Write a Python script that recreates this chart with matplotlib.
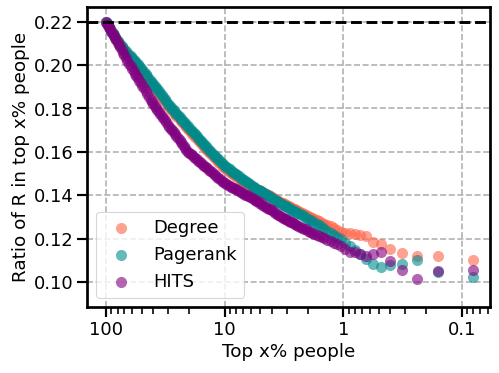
import matplotlib
matplotlib.use("Agg")
import matplotlib.pyplot as plt
from matplotlib.ticker import NullFormatter

# shared x grid (top x% people)
top_pct = [100, 98, 96, 94, 92, 90, 88, 86, 84, 82, 80, 78, 76, 74, 72, 70, 68, 66, 64, 62,
           60, 58.5, 57, 55.5, 54, 52.5, 51, 49.5, 48, 46.5, 45, 43.5, 42, 41, 40, 39, 38, 37,
           36, 35, 34, 33, 32, 31, 30, 29.2, 28.5, 27.7, 27, 26.2, 25.5, 24.7, 24, 23.4, 22.8,
           22.2, 21.6, 21, 20.4, 19.8, 19.2, 18.7, 18.2, 17.7, 17.2, 16.7, 16.2, 15.7, 15.3,
           14.8, 14.4, 14, 13.6, 13.2, 12.8, 12.4, 12, 11.6, 11.3, 10.9, 10.6, 10.3, 10, 9.7,
           9.4, 9.1, 8.8, 8.55, 8.3, 8.05, 7.8, 7.55, 7.3, 7.1, 6.9, 6.7, 6.5, 6.3, 6.1, 5.9,
           5.7, 5.55, 5.4, 5.25, 5.1, 4.95, 4.8, 4.65, 4.5, 4.37, 4.24, 4.12, 4.0, 3.88, 3.76,
           3.64, 3.52, 3.4, 3.28, 3.2, 3.12, 3.04, 2.96, 2.88, 2.80, 2.72, 2.64, 2.56, 2.48,
           2.40, 2.32, 2.24, 2.16, 2.08, 2.0, 1.92, 1.84, 1.76, 1.68, 1.60, 1.52, 1.44, 1.36,
           1.28, 1.20, 1.12, 1.04,
           0.96, 0.88, 0.80, 0.72, 0.64, 0.56, 0.48, 0.40, 0.32, 0.24, 0.16, 0.08]

degree = [.2200, .2192, .2183, .2175, .2166, .2157, .2148, .2139, .2129, .2119, .2109, .2100,
          .2090, .2082, .2073, .2065, .2056, .2048, .2040, .2031, .2022, .2015, .2008, .2001,
          .1993, .1985, .1976, .1967, .1957, .1947, .1937, .1927, .1916, .1909, .1901, .1893,
          .1885, .1877, .1868, .1859, .1850, .1841, .1832, .1822, .1812, .1804, .1796, .1789,
          .1781, .1774, .1766, .1758, .1750, .1743, .1736, .1729, .1722, .1715, .1707, .1699,
          .1691, .1684, .1677, .1670, .1662, .1654, .1646, .1639, .1631, .1623, .1615, .1608,
          .1600, .1593, .1585, .1577, .1569, .1562, .1555, .1547, .1539, .1532, .1525, .1520,
          .1514, .1509, .1503, .1498, .1493, .1488, .1482, .1477, .1471, .1466, .1461, .1457,
          .1453, .1449, .1444, .1440, .1435, .1432, .1429, .1426, .1422, .1418, .1414, .1410,
          .1406, .1403, .1399, .1395, .1391, .1388, .1384, .1380, .1375, .1370, .1365, .1362,
          .1359, .1356, .1352, .1349, .1345, .1342, .1338, .1334, .1330, .1326, .1322, .1319,
          .1315, .1310, .1306, .1301, .1297, .1292, .1285, .1280, .1273, .1268, .1262, .1256,
          .1249, .1241, .1232,
          .1228, .1225, .1222, .1218, .1212, .1185, .1174, .1150, .1134, .1122, .1119, .1100]

pagerank = [.2200, .2192, .2183, .2175, .2166, .2157, .2148, .2139, .2129, .2119, .2109, .2101,
            .2093, .2086, .2078, .2071, .2063, .2056, .2048, .2040, .2031, .2024, .2017, .2010,
            .2003, .1995, .1986, .1977, .1967, .1957, .1947, .1937, .1926, .1919, .1911, .1903,
            .1895, .1887, .1878, .1869, .1860, .1851, .1842, .1832, .1822, .1814, .1806, .1799,
            .1791, .1784, .1776, .1768, .1760, .1753, .1746, .1739, .1732, .1725, .1717, .1709,
            .1701, .1694, .1687, .1680, .1672, .1664, .1656, .1649, .1641, .1633, .1625, .1618,
            .1610, .1603, .1595, .1587, .1579, .1572, .1565, .1557, .1549, .1542, .1535, .1530,
            .1524, .1519, .1513, .1508, .1503, .1498, .1492, .1487, .1481, .1476, .1471, .1466,
            .1461, .1456, .1450, .1444, .1438, .1434, .1430, .1426, .1422, .1418, .1413, .1409,
            .1404, .1400, .1396, .1392, .1387, .1383, .1379, .1374, .1369, .1364, .1359, .1356,
            .1352, .1349, .1345, .1341, .1337, .1333, .1329, .1325, .1320, .1316, .1311, .1307,
            .1302, .1296, .1291, .1285, .1280, .1274, .1267, .1261, .1253, .1245, .1236, .1227,
            .1218, .1207, .1196,
            .1180, .1165, .1148, .1128, .1105, .1084, .1069, .1076, .1084, .1099, .1046, .1023]

hits = [.2200, .2191, .2182, .2173, .2164, .2154, .2144, .2134, .2124, .2114, .2103, .2092,
        .2081, .2069, .2057, .2045, .2033, .2020, .2006, .1993, .1980, .1970, .1960, .1950,
        .1939, .1928, .1916, .1904, .1892, .1880, .1867, .1853, .1839, .1830, .1820, .1810,
        .1800, .1791, .1782, .1773, .1764, .1755, .1745, .1735, .1724, .1716, .1707, .1699,
        .1690, .1681, .1672, .1662, .1652, .1644, .1635, .1627, .1618, .1609, .1600, .1594,
        .1588, .1583, .1577, .1571, .1565, .1559, .1553, .1547, .1541, .1535, .1529, .1523,
        .1517, .1511, .1505, .1499, .1492, .1486, .1480, .1474, .1467, .1461, .1455, .1451,
        .1447, .1443, .1439, .1435, .1431, .1427, .1423, .1419, .1414, .1411, .1407, .1403,
        .1399, .1395, .1391, .1387, .1383, .1379, .1375, .1371, .1366, .1362, .1357, .1352,
        .1347, .1343, .1338, .1334, .1330, .1325, .1320, .1315, .1310, .1305, .1300, .1296,
        .1292, .1289, .1285, .1282, .1278, .1275, .1271, .1267, .1263, .1259, .1255, .1251,
        .1246, .1242, .1237, .1232, .1227, .1221, .1216, .1210, .1208, .1202, .1195, .1188,
        .1181, .1173, .1165,
        .1150, .1140, .1136, .1128, .1122, .1128, .1136, .1097, .1056, .1013, .1051, .1055]

base_ratio = 0.22

series = [("Degree", degree, "tomato"),
          ("Pagerank", pagerank, "darkcyan"),
          ("HITS", hits, "purple")]

plt.rcParams.update({
    "axes.linewidth": 2.5,
    "xtick.major.size": 9, "xtick.major.width": 2,
    "xtick.minor.size": 6, "xtick.minor.width": 1.5,
    "ytick.major.size": 9, "ytick.major.width": 2,
    "xtick.labelsize": 16.5, "ytick.labelsize": 16.5,
    "axes.labelsize": 17, "legend.fontsize": 16.5,
})

fig = plt.figure(figsize=(6.4, 4.785), dpi=78)
ax = fig.add_axes([0.175, 0.177, 0.807, 0.803])

for name, vals, col in series:
    ax.scatter(top_pct, vals, s=105, color=col, alpha=0.6, linewidths=0, label=name)

ax.axhline(base_ratio, color="black", linestyle="--", linewidth=2.7)

ax.set_xscale("log")
ax.set_xlim(143.8, 0.0577)
ax.set_ylim(0.0885, 0.2266)
ax.set_xticks([100, 10, 1, 0.1])
ax.set_xticklabels(["100", "10", "1", "0.1"])
ax.xaxis.set_minor_formatter(NullFormatter())
ax.set_yticks([0.10, 0.12, 0.14, 0.16, 0.18, 0.20, 0.22])

ax.grid(True, which="major", linestyle="--", color="#b0b0b0", linewidth=1.5)
ax.set_axisbelow(True)

ax.set_xlabel("Top x% people")
ax.set_ylabel("Ratio of R in top x% people")
ax.legend(loc="lower left")

fig.savefig("out.png", dpi=78)
